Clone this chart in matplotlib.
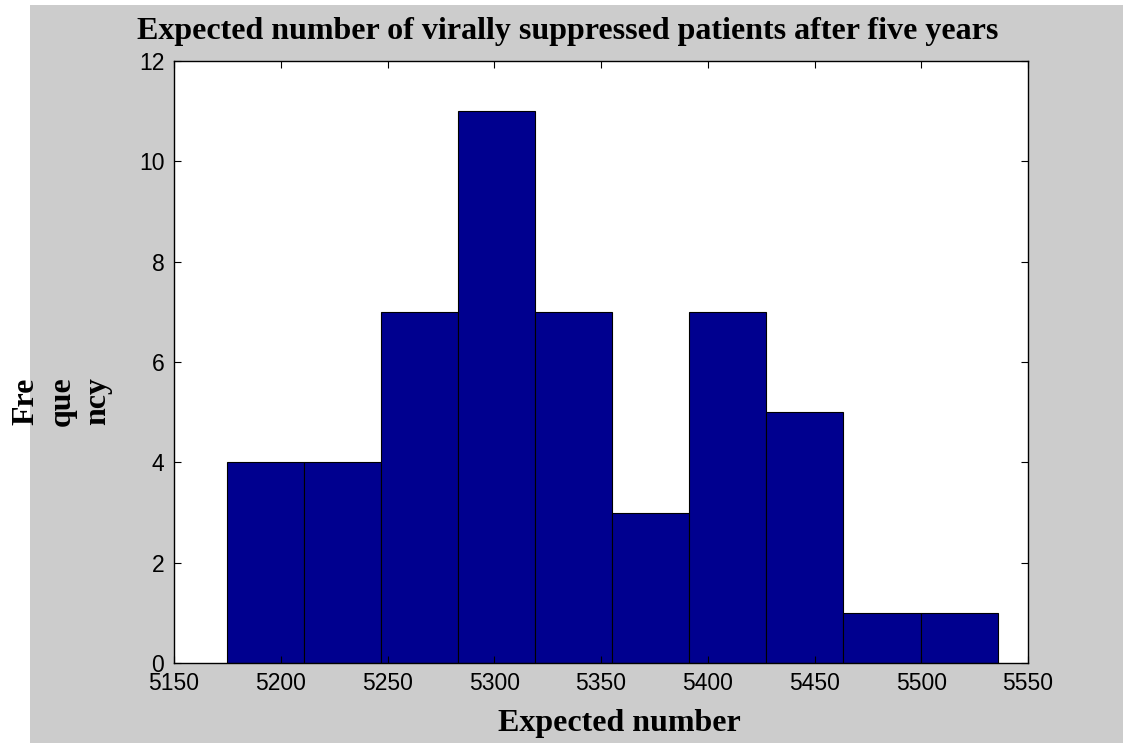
import numpy as np
import matplotlib
matplotlib.use("Agg")
import matplotlib.pyplot as plt
from matplotlib.patches import Rectangle

# histogram data
counts = [4, 4, 7, 11, 7, 3, 7, 5, 1, 1]
bin_lo = 5174.7
bin_hi = 5535.8
x_ticks = [5150, 5200, 5250, 5300, 5350, 5400, 5450, 5500, 5550]
y_ticks = [0, 2, 4, 6, 8, 10, 12]

title = "Expected number of virally suppressed patients after five years"
x_label = "Expected number"
y_label = "Fre\nque\nncy"

W, H = 1123, 743
fig = plt.figure(figsize=(W / 100, H / 100), dpi=100, facecolor="white")
# grey figure area (starts a little in from the left / top edge)
fig.patches.append(Rectangle((30 / W, 0), 1 - 30 / W, 1 - 5 / H,
                             transform=fig.transFigure, facecolor="#cccccc",
                             edgecolor="none", zorder=-10))

ax = fig.add_axes([174 / W, 1 - 663 / H, (1028 - 174) / W, (663 - 61) / H])
ax.set_facecolor("white")

edges = np.linspace(bin_lo, bin_hi, len(counts) + 1)
ax.hist(edges[:-1], bins=edges, weights=counts, color="#00008f",
        edgecolor="black", linewidth=0.8)

ax.set_xlim(x_ticks[0], x_ticks[-1])
ax.set_ylim(y_ticks[0], y_ticks[-1])
ax.set_xticks(x_ticks)
ax.set_yticks(y_ticks)

tick_font = {"family": "Liberation Sans", "size": 16.5}
ax.set_xticklabels([str(t) for t in x_ticks], fontdict=tick_font)
ax.set_yticklabels([str(t) for t in y_ticks], fontdict=tick_font)
ax.tick_params(direction="in", length=5, width=0.8, top=True, right=True,
               colors="black")
ax.tick_params(axis="x", pad=6.5)
ax.tick_params(axis="y", pad=7)
for s in ax.spines.values():
    s.set_linewidth(1.0)

serif_bold = {"family": "Liberation Serif", "weight": "bold"}
fig.text(568 / W, 1 - 31 / H, title, ha="center", va="center",
         fontsize=23, **serif_bold)
fig.text(619 / W, 1 - 723 / H, x_label, ha="center", va="center",
         fontsize=23, **serif_bold)
fig.text(62 / W, 1 - 401 / H, y_label, ha="center", va="center",
         rotation=90, multialignment="center", linespacing=1.3,
         fontsize=23, **serif_bold)

fig.savefig("out.png", dpi=100, facecolor=fig.get_facecolor())
